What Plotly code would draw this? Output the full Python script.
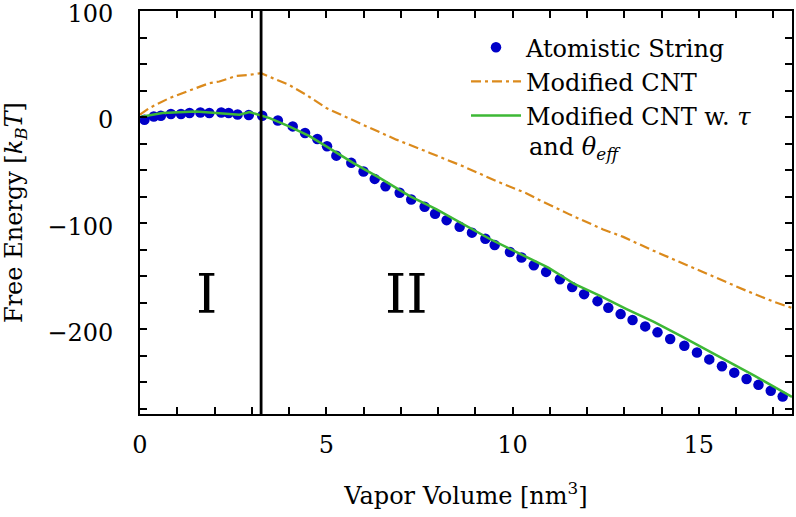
import plotly.graph_objects as go

# Atomistic string (blue dots)
atom_x = [0.12, 0.37, 0.56, 0.83, 1.10, 1.33, 1.62, 1.86, 2.18, 2.38, 2.62, 2.92, 3.28, 3.70, 4.10,
          4.43, 4.76, 5.02, 5.27, 5.67, 6.00, 6.30, 6.59, 6.97, 7.28, 7.64, 7.92, 8.23, 8.58, 8.91,
          9.27, 9.52, 9.93, 10.24, 10.57, 10.90, 11.27, 11.60, 11.92, 12.28, 12.57, 12.90, 13.22,
          13.56, 13.89, 14.23, 14.61, 14.95, 15.28, 15.62, 15.95, 16.28, 16.60, 16.93, 17.25]
atom_y = [-2.5, 0.6, 1.2, 2.8, 2.8, 3.8, 4.3, 3.8, 4.3, 3.8, 2.4, 1.9, 1.2, -3.2, -8.8,
          -15.0, -20.7, -27.6, -36.4, -43.2, -51.4, -58.3, -65.2, -71.4, -77.7, -84.6, -91.2, -97.2, -103.4, -109.0,
          -114.7, -120.7, -127.3, -132.5, -139.8, -146.0, -152.9, -160.2, -167.0, -173.6, -179.9, -185.8, -191.4,
          -197.4, -203.0, -209.3, -215.6, -222.0, -228.5, -235.0, -241.0, -247.0, -252.5, -258.0, -263.5]

# Modified CNT (orange dash-dot)
cnt_x = [0.0, 0.25, 0.79, 1.33, 1.86, 2.13, 2.58, 2.94, 3.25, 3.56, 4.0, 4.46, 5.0, 5.98, 6.88,
         7.78, 8.67, 9.57, 10.38, 10.65, 11.54, 12.43, 12.97, 13.78, 14.5, 15.39, 16.29, 17.0, 17.5]
cnt_y = [2.2, 8.5, 17.9, 25.0, 32.0, 33.5, 38.8, 39.8, 41.4, 36.7, 30.4, 21.0, 8.5, -7.2, -21.3,
         -33.8, -46.4, -60.5, -72.0, -77.0, -92.0, -106.0, -113.0, -126.0, -137.0, -150.0, -164.0, -174.0, -180.0]

# Modified CNT with tau and theta_eff (green)
tau_x = [0.0, 0.6, 1.5, 2.04, 2.4, 2.67, 2.94, 3.2, 3.48, 4.0, 4.55, 5.0, 5.72, 6.43, 7.24, 7.96,
         8.67, 9.39, 10.2, 10.96, 11.67, 12.35, 13.06, 13.78, 14.5, 15.08, 15.8, 16.5, 17.5]
tau_y = [0.0, 3.8, 5.3, 3.8, 2.8, 2.2, 4.7, 2.2, -1.0, -8.8, -18.0, -27.6, -43.2, -57.3, -74.6, -87.0,
         -101.0, -115.0, -129.0, -142.0, -157.6, -168.6, -181.0, -193.0, -206.0, -217.0, -230.0, -244.0, -264.0]

series_names = ["Atomistic String", "Modified CNT", "Modified CNT w. <i>τ</i>"]
legend_continuation = "and <i>θ<sub>eff</sub></i>"

boundary_x = 3.25
region_labels = ["I", "II"]
region_label_x = [1.78, 7.16]
region_label_y = [-167, -167]

x_range = [0, 17.5]
y_range = [-280, 100]
x_ticks = [0, 5, 10, 15]
y_ticks = [100, 0, -100, -200]

FONT = "DejaVu Serif"
FS = 24

fig = go.Figure()
fig.add_trace(go.Scatter(x=atom_x, y=atom_y, mode="markers", name=series_names[0],
                         marker=dict(color="#0000C8", size=10.5, line=dict(width=0))))
fig.add_trace(go.Scatter(x=cnt_x, y=cnt_y, mode="lines", name=series_names[1],
                         line=dict(color="#DB8A1C", width=2.2, dash="10px,4px,3px,4px")))
fig.add_trace(go.Scatter(x=tau_x, y=tau_y, mode="lines", name=series_names[2],
                         line=dict(color="#3DB835", width=2.5)))
# invisible trace carrying the mirrored tick axes (top / right)
fig.add_trace(go.Scatter(x=[x_range[0]], y=[y_range[0]], xaxis="x2", yaxis="y2", mode="markers",
                         marker=dict(opacity=0), showlegend=False, hoverinfo="skip"))

fig.add_shape(type="line", x0=boundary_x, x1=boundary_x, xref="x", y0=0, y1=1, yref="paper",
              line=dict(color="black", width=2.8))

for t, xx, yy in zip(region_labels, region_label_x, region_label_y):
    fig.add_annotation(x=xx, y=yy, text=t, showarrow=False,
                       font=dict(family=FONT, size=54, color="black"))

# second line of the third legend entry
fig.add_annotation(x=0.594, y=0.66, xref="paper", yref="paper", xanchor="left", yanchor="middle",
                   text=legend_continuation, showarrow=False,
                   font=dict(family=FONT, size=FS, color="black"))

tick_style = dict(ticks="inside", ticklen=7, tickwidth=1.6, tickcolor="black")
minor_x = dict(dtick=1, showgrid=False, **tick_style)
minor_y = dict(dtick=25, showgrid=False, **tick_style)

fig.update_layout(
    width=796, height=517,
    margin=dict(l=140, r=4, t=11, b=103),
    paper_bgcolor="white", plot_bgcolor="white",
    font=dict(family=FONT, color="black", size=FS),
    xaxis=dict(range=x_range, tickvals=x_ticks, ticktext=[str(v) for v in x_ticks],
               showline=True, linecolor="black", linewidth=2, mirror=True,
               showgrid=False, zeroline=False, automargin=False, minor=minor_x,
               tickfont=dict(family=FONT, size=FS, color="black"), ticklabelstandoff=8,
               title=dict(text="Vapor Volume [nm<sup>3</sup>]",
                          font=dict(family=FONT, size=FS, color="black"), standoff=29),
               **tick_style),
    yaxis=dict(range=y_range, tickvals=y_ticks,
               ticktext=[str(v).replace("-", "−") for v in y_ticks],
               showline=True, linecolor="black", linewidth=2, mirror=True,
               showgrid=False, zeroline=False, automargin=False, minor=minor_y,
               tickfont=dict(family=FONT, size=FS, color="black"), ticklabelstandoff=20,
               ticklabeloverflow="allow", ticklabelshift=3,
               title=dict(text="Free Energy [<i>k<sub>B</sub>T</i>]",
                          font=dict(family=FONT, size=FS, color="black"), standoff=18),
               **tick_style),
    xaxis2=dict(range=x_range, overlaying="x", side="top", tickvals=x_ticks, showticklabels=False,
                showline=False, showgrid=False, zeroline=False, automargin=False, minor=minor_x,
                **tick_style),
    yaxis2=dict(range=y_range, overlaying="y", side="right", tickvals=y_ticks, showticklabels=False,
                showline=False, showgrid=False, zeroline=False, automargin=False, minor=minor_y,
                **tick_style),
    showlegend=True,
    legend=dict(x=0.5, y=0.965, xanchor="left", yanchor="top", bgcolor="rgba(0,0,0,0)",
                font=dict(family=FONT, size=FS, color="black"),
                tracegroupgap=0, itemwidth=50),
)

fig.write_html("out.html", config={"displayModeBar": False},
               post_script="document.body.style.margin='0px';")
